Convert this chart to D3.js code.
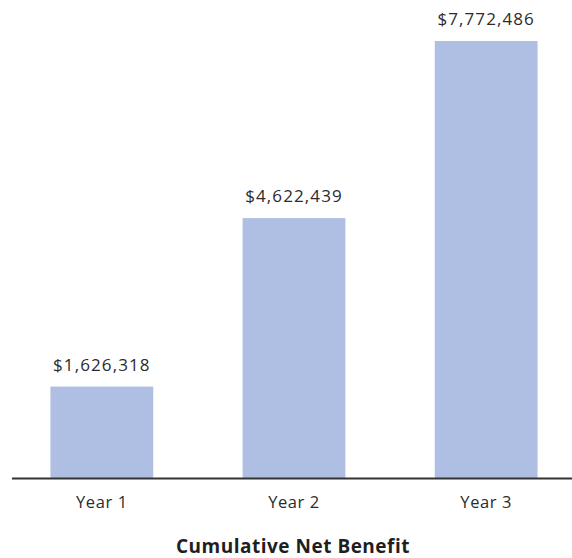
<!DOCTYPE html>
<html>
<head>
<meta charset="utf-8">
<script src="https://cdn.jsdelivr.net/npm/d3@7"></script>
<style>
  html, body { margin: 0; padding: 0; background: #ffffff; }
  svg { display: block; font-family: "Open Sans", Lato, sans-serif; }
</style>
</head>
<body>
<svg id="chart" width="572" height="558"></svg>
<script>
const years = ["Year 1", "Year 2", "Year 3"];
const netBenefit = [1626318, 4622439, 7772486];
const chartTitle = "Cumulative Net Benefit";

const width = 572;
const height = 558;
const baseline = 478;
const plotTop = 41;

const svg = d3.select("#chart");

const x = d3.scaleBand()
  .domain(years)
  .range([12, 576])
  .paddingInner(0.465)
  .paddingOuter(0.2);

const y = d3.scaleLinear()
  .domain([0, d3.max(netBenefit)])
  .range([baseline, plotTop]);

const rows = years.map((year, i) => ({ year, value: netBenefit[i] }));
const fmt = (v) => "$" + d3.format(",")(v);

svg.append("g")
  .selectAll("rect")
  .data(rows)
  .join("rect")
  .attr("x", (d) => x(d.year))
  .attr("y", (d) => y(d.value))
  .attr("width", x.bandwidth())
  .attr("height", (d) => baseline - y(d.value))
  .attr("fill", "#aebfe3");

svg.append("g")
  .selectAll("text")
  .data(rows)
  .join("text")
  .attr("x", (d) => x(d.year) + x.bandwidth() / 2)
  .attr("y", (d) => y(d.value) - 16)
  .attr("text-anchor", "middle")
  .attr("font-size", 17)
  .attr("letter-spacing", 1.1)
  .attr("fill", "#2b2b2b")
  .text((d) => fmt(d.value));

const xAxis = svg.append("g")
  .attr("transform", `translate(0,${baseline})`)
  .call(d3.axisBottom(x).tickSize(0).tickPadding(18));
xAxis.select(".domain").attr("d", `M12,0.5H572`).attr("stroke", "#333").attr("stroke-width", 2);
xAxis.selectAll("text")
  .attr("font-size", 16.5)
  .attr("letter-spacing", 0.6)
  .attr("font-family", "'Open Sans', Lato, sans-serif")
  .attr("fill", "#2b2b2b");

svg.append("text")
  .attr("x", 293)
  .attr("y", 553)
  .attr("text-anchor", "middle")
  .attr("font-size", 19)
  .attr("letter-spacing", 0.5)
  .attr("font-weight", 700)
  .attr("fill", "#1f1f1f")
  .text(chartTitle);
</script>
</body>
</html>
